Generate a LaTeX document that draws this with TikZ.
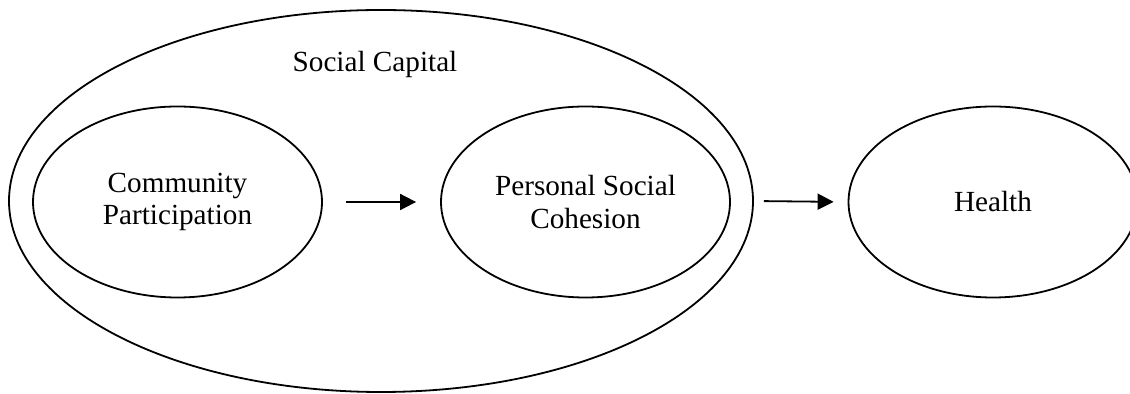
\documentclass[tikz,border=0pt]{standalone}
\usepackage{fontspec}
\setmainfont{Liberation Serif}
\usetikzlibrary{positioning,shapes.geometric,arrows.meta}

\begin{document}
\begin{tikzpicture}[x=0.5pt,y=-0.5pt,
		oval/.style={draw,ellipse,line width=0.9pt,inner sep=0pt,minimum width=144.5pt,minimum height=95.5pt,align=center,font=\fontsize{14.6}{16.3}\selectfont},
		link/.style={line width=0.9pt,-{Triangle[length=8pt,width=8pt]}}]
		\useasboundingbox (0,0) rectangle (1130,394);
		\clip (0,0) rectangle (1130,394);
		\node[oval,minimum width=372pt,minimum height=191pt] (capital) at (381,201) {};
		\node[font=\fontsize{14.6}{16.3}\selectfont] (title) at (375,64) {Social Capital};
		\node[oval] (community) at (177.5,202) {Community\\Participation};
		\node[oval] (cohesion) at (585.5,202) {Personal Social\\Cohesion};
		\node[oval] (health) at (993,202) {Health};
		\draw[link,shorten <=11.5pt,shorten >=12pt] (community) -- (cohesion);
		\draw[link,shorten <=5pt,shorten >=7pt] (capital.east) -- (health.west);
	\end{tikzpicture}
\end{document}
